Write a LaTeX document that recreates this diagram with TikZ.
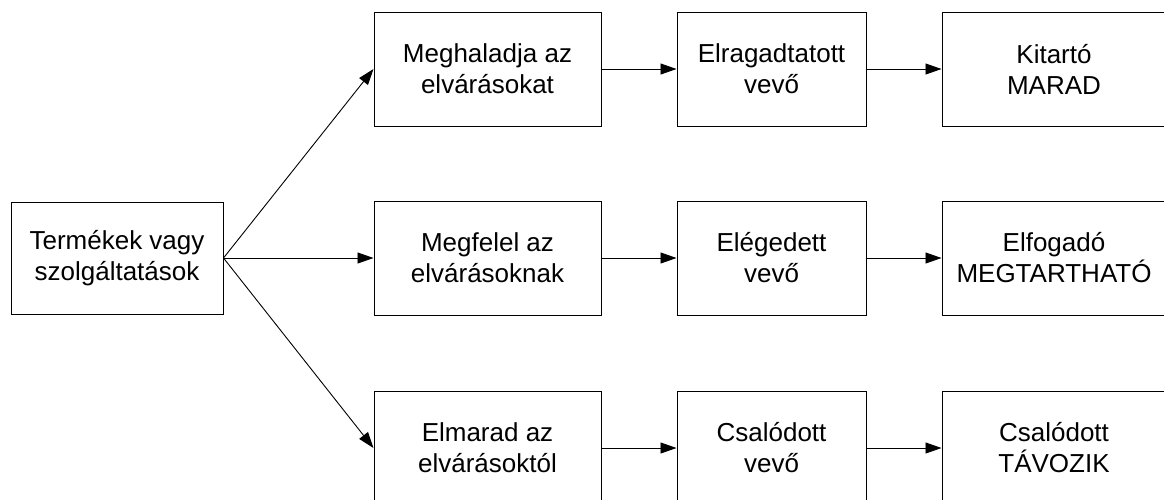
\documentclass[tikz,border=0pt]{standalone}
\usepackage{fontspec}
\setmainfont{Liberation Sans}
\usetikzlibrary{arrows.meta}
\begin{document}
\begin{tikzpicture}[x=1pt,y=-1pt,
  box/.style={draw=black, line width=1pt, rectangle, align=center,
    inner sep=0pt, minimum height=114pt,
    font=\fontsize{26}{31}\selectfont},
  arr/.style={line width=0.9pt, -{Triangle[length=16pt,width=11pt]}}]
\useasboundingbox (0,0) rectangle (1164,499);
\clip (0,0) rectangle (1164,499);
\fill[white] (0,0) rectangle (1164,499);
% source
\node[box, minimum width=212pt, minimum height=112pt] (src) at (117,258) {Termékek vagy\\szolgáltatások};
% first column: comparison with expectations
\node[box, minimum width=227pt] (a1) at (487.5,69)  {Meghaladja az\\elvárásokat};
\node[box, minimum width=227pt] (a2) at (487.5,258) {Megfelel az\\elvárásoknak};
\node[box, minimum width=227pt] (a3) at (487.5,448) {Elmarad az\\elvárásoktól};
% second column: customer state
\node[box, minimum width=189pt] (b1) at (771.5,69)  {Elragadtatott\\vevő};
\node[box, minimum width=189pt] (b2) at (771.5,258) {Elégedett\\vevő};
\node[box, minimum width=189pt] (b3) at (771.5,448) {Csalódott\\vevő};
% third column: outcome
\node[box, minimum width=224pt] (c1) at (1054,69)  {Kitartó\\MARAD};
\node[box, minimum width=224pt] (c2) at (1054,258) {Elfogadó\\MEGTARTHATÓ};
\node[box, minimum width=224pt] (c3) at (1054,448) {Csalódott\\TÁVOZIK};
% connectors
\draw[arr] (src.east) -- (a1.west);
\draw[arr] (src.east) -- (a2.west);
\draw[arr] (src.east) -- (a3.west);
\draw[arr] (a1) -- (b1);
\draw[arr] (a2) -- (b2);
\draw[arr] (a3) -- (b3);
\draw[arr] (b1) -- (c1);
\draw[arr] (b2) -- (c2);
\draw[arr] (b3) -- (c3);
\end{tikzpicture}
\end{document}
